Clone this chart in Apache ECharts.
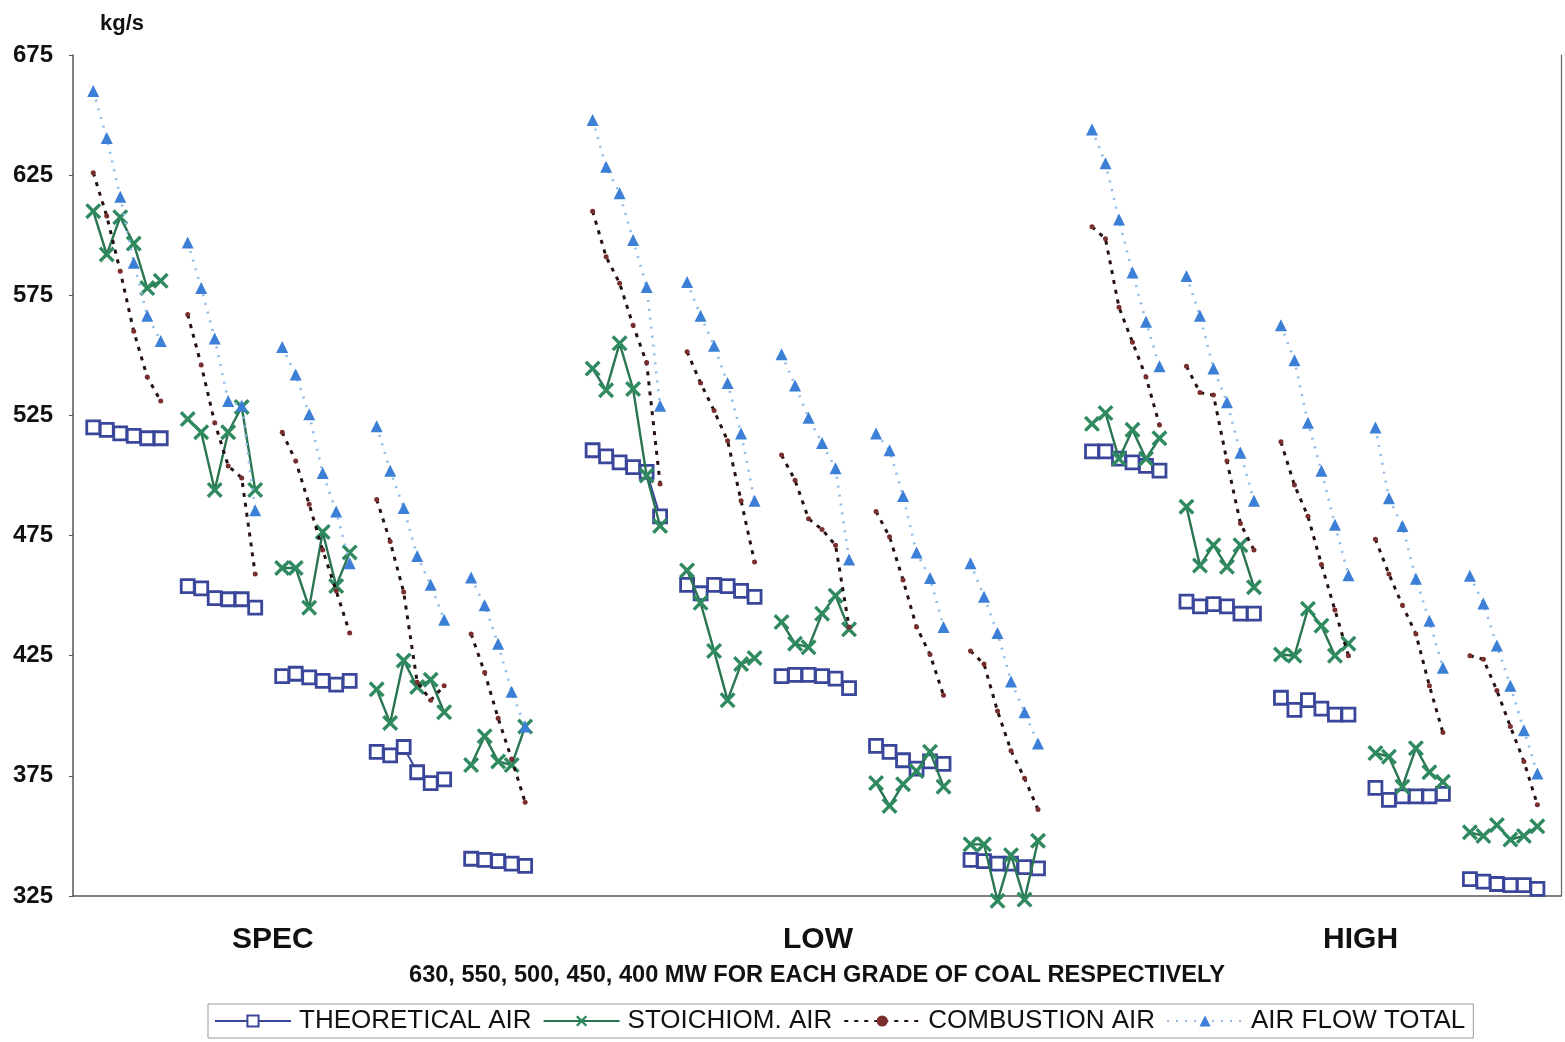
<!DOCTYPE html>
<html>
<head>
<meta charset="utf-8">
<script src="https://cdn.jsdelivr.net/npm/echarts@6/dist/echarts.min.js"></script>
<style>
  html, body { margin: 0; padding: 0; background: #ffffff; }
  #chart { width: 1565px; height: 1042px; }
</style>
</head>
<body>
<div id="chart"></div>
<script>
// ---- categories / structure ----
const grades = ['SPEC', 'LOW', 'HIGH'];
const loadsMW = [630, 550, 500, 450, 400];
const pointsPerLoad = 6;
const slotsPerLoad = 7;      // 6 points + 1 gap
const slotsPerGrade = 37;    // 5 loads + wider gap between grades
const gradeLabelPos = [13.3, 53.7, 93.9];
const yTicks = [325, 375, 425, 475, 525, 575, 625, 675];

// ---- THEORETICAL AIR (kg/s) ----
const theoreticalSpec = [
  [520, 519, 517.5, 516.5, 515.5, 515.5],
  [454, 453, 449, 448.5, 448.5, 445],
  [416.5, 417.5, 416, 414.5, 413, 414.5],
  [385, 383.5, 387, 376.5, 372, 373.5],
  [340.5, 340, 339.5, 338.5, 337.5, null]
];
const theoreticalLow = [
  [510.5, 508, 505.5, 503.5, 501.5, 483],
  [454.5, 451, 454.5, 454, 452, 449.5],
  [416.5, 417, 417, 416.5, 415.5, 411.5],
  [387.5, 385, 381.5, 378, 381, 380],
  [340, 339.5, 338.5, 338.5, 337, 336.5]
];
const theoreticalHigh = [
  [510, 510, 507, 505.5, 504, 502],
  [447.5, 445.5, 446.5, 445.5, 442.5, 442.5],
  [407.5, 402.5, 406.5, 403, 400.5, 400.5],
  [370, 365, 366.5, 366.5, 366.5, 367.5],
  [332, 331, 330, 329.5, 329.5, 328]
];

// ---- STOICHIOM. AIR ----
const stoichSpec = [
  [610, 592, 607.5, 596.5, 578, 581],
  [523.5, 518, 494, 518, 528.5, 494],
  [461.5, 461.5, 445, 476.5, 454, 468],
  [411, 397, 423, 412, 415, 401.5],
  [379.5, 391.5, 381, 379.5, 395.5, null]
];
const stoichLow = [
  [544.5, 535.5, 555, 536, 500, 479],
  [460.5, 447, 427, 406.5, 421.5, 424],
  [439, 430, 428.5, 442.5, 450, 436],
  [372, 362.5, 371.5, 377, 385, 370.5],
  [346.5, 346.5, 323, 342, 323.5, 348]
];
const stoichHigh = [
  [521.5, 526, 507, 519, 507, 515.5],
  [487, 462.5, 471, 462, 471, 453.5],
  [425.5, 425, 444.5, 437.5, 425, 430],
  [384.5, 383, 370.5, 386.5, 376.5, 372.5],
  [351.5, 350, 354.5, 348.5, 350, 354]
];

// ---- COMBUSTION AIR ----
const combustionSpec = [
  [626, 608, 585, 560, 541, 531],
  [567, 546, 522, 504, 499, 459],
  [518, 506, 488, 469, 452, 434.5],
  [490, 472.5, 451.5, 414, 406.5, 412.5],
  [434, 418, 399, 382, 364, null]
];
const combustionLow = [
  [610, 591, 580, 562.5, 547, 496.5],
  [551.5, 538.5, 527, 514.5, 489.5, 464],
  [508.5, 498, 482, 477.5, 471, 437],
  [485, 474.5, 456.5, 437, 425.5, 408.5],
  [427, 421.5, 402, 385.5, 374, 361]
];
const combustionHigh = [
  [603.5, 598.5, 570, 555.5, 541, 521],
  [545.5, 534.5, 533.5, 506, 480, 469],
  [514, 496, 483, 463, 444, 425],
  [473.5, 459, 446, 434, 412.5, 393],
  [425, 423.5, 410.5, 395.5, 381, 363]
];

// ---- AIR FLOW TOTAL ----
const airFlowSpec = [
  [660, 640.5, 616, 588.5, 566.5, 556],
  [597, 578, 557, 531, 529, 485.5],
  [553.5, 542, 525.5, 501, 485, 463.5],
  [520.5, 502, 486.5, 466.5, 454.5, 440],
  [457.5, 446, 430, 410, 395.5, null]
];
const airFlowLow = [
  [648, 628.5, 617.5, 598, 578.5, 529],
  [580.5, 566.5, 554, 538.5, 517.5, 489.5],
  [550.5, 537.5, 524, 513.5, 503, 465],
  [517.5, 510.5, 491.5, 468, 457.3, 437],
  [463.5, 449.5, 434.5, 414.3, 401.5, 388.5]
];
const airFlowHigh = [
  [644, 630, 606.5, 584.5, 564, 545.5],
  [583, 566.5, 544.5, 530.5, 509.5, 489.5],
  [562.5, 548, 522, 502, 479.5, 458.5],
  [520, 490.5, 479, 457, 439.5, 420],
  [458.3, 446.7, 429.2, 412.5, 394, 376]
];

const seriesNames = ['THEORETICAL AIR', 'STOICHIOM. AIR', 'COMBUSTION AIR', 'AIR FLOW TOTAL'];

function buildData(byGrade) {
  const out = [];
  byGrade.forEach(function (loads, g) {
    loads.forEach(function (vals, l) {
      const base = g * slotsPerGrade + l * slotsPerLoad;
      vals.forEach(function (v, p) { out.push([base + p, v]); });
      out.push([base + pointsPerLoad, null]); // break line between groups
    });
  });
  return out;
}

const FONT = '"Liberation Sans", Arial, sans-serif';
const X_SYMBOL = 'path://M1.5,0 L5,3.5 L8.5,0 L10,1.5 L6.5,5 L10,8.5 L8.5,10 L5,6.5 L1.5,10 L0,8.5 L3.5,5 L0,1.5 Z';

const chart = echarts.init(document.getElementById('chart'), null, { renderer: 'canvas' });
chart.setOption({
  backgroundColor: '#ffffff',
  animation: false,
  grid: { left: 73, right: 4, top: 55, bottom: 146, containLabel: false },
  xAxis: {
    type: 'value',
    min: -1.5,
    max: 108.75,
    splitLine: { show: false },
    axisLine: { show: true, onZero: false, lineStyle: { color: '#555', width: 1.5 } },
    axisTick: { show: false },
    axisLabel: {
      customValues: gradeLabelPos,
      margin: 29,
      fontFamily: FONT,
      fontWeight: 'bold',
      fontSize: 30,
      color: '#111',
      formatter: function (v) {
        let best = 0;
        gradeLabelPos.forEach(function (p, i) { if (Math.abs(p - v) < Math.abs(gradeLabelPos[best] - v)) best = i; });
        return grades[best];
      }
    },
    name: loadsMW.join(', ') + ' MW FOR EACH GRADE OF COAL RESPECTIVELY',
    nameLocation: 'middle',
    nameGap: 67,
    nameTextStyle: { fontFamily: FONT, fontWeight: 'bold', fontSize: 23.6, color: '#111' }
  },
  yAxis: [{
    type: 'value',
    min: yTicks[0],
    max: yTicks[yTicks.length - 1],
    interval: 50,
    splitLine: { show: false },
    axisLine: { show: true, onZero: false, lineStyle: { color: '#555', width: 1.5 } },
    axisTick: { show: true, length: 4, lineStyle: { color: '#555' } },
    axisLabel: { margin: 20, fontFamily: FONT, fontWeight: 'bold', fontSize: 24, color: '#111' },
    name: 'kg/s',
    nameLocation: 'end',
    nameGap: 20,
    nameTextStyle: { fontFamily: FONT, fontWeight: 'bold', fontSize: 22, color: '#111', align: 'left', verticalAlign: 'bottom', padding: [0, 0, 0, 27] }
  }, {
    type: 'value',
    position: 'right',
    min: yTicks[0],
    max: yTicks[yTicks.length - 1],
    interval: 50,
    splitLine: { show: false },
    axisLine: { show: true, onZero: false, lineStyle: { color: '#666', width: 1.2 } },
    axisTick: { show: false },
    axisLabel: { show: false }
  }],
  legend: {
    data: seriesNames,
    left: 208,
    top: 1004,
    padding: [4, 8, 4, 6],
    itemWidth: 76,
    itemHeight: 14,
    itemGap: 11,
    borderColor: '#999',
    borderWidth: 1,
    textStyle: { fontFamily: FONT, fontSize: 26, color: '#111', padding: [0, 0, 0, 3] }
  },
  series: [
    {
      name: seriesNames[0],
      type: 'line',
      clip: false,
      data: buildData([theoreticalSpec, theoreticalLow, theoreticalHigh]),
      connectNulls: false,
      symbol: 'rect',
      symbolSize: 13,
      lineStyle: { color: '#3a4699', width: 2 },
      itemStyle: { color: '#ffffff', borderColor: '#3a4699', borderWidth: 2.8 },
      z: 2
    },
    {
      name: seriesNames[1],
      type: 'line',
      clip: false,
      data: buildData([stoichSpec, stoichLow, stoichHigh]),
      connectNulls: false,
      symbol: X_SYMBOL,
      symbolSize: 16,
      lineStyle: { color: '#2a7552', width: 2.4 },
      itemStyle: { color: '#2f8a60' },
      z: 3
    },
    {
      name: seriesNames[2],
      type: 'line',
      clip: false,
      data: buildData([combustionSpec, combustionLow, combustionHigh]),
      connectNulls: false,
      symbol: 'circle',
      symbolSize: 5,
      lineStyle: { color: '#241010', width: 3, type: [4, 6] },
      itemStyle: { color: '#7a2e2e' },
      z: 4
    },
    {
      name: seriesNames[3],
      type: 'line',
      clip: false,
      data: buildData([airFlowSpec, airFlowLow, airFlowHigh]),
      connectNulls: false,
      symbol: 'triangle',
      symbolSize: 12,
      lineStyle: { color: '#8fbbe8', width: 2.6, type: [2, 7] },
      itemStyle: { color: '#3b7fd6' },
      z: 5
    }
  ]
});
</script>
</body>
</html>
